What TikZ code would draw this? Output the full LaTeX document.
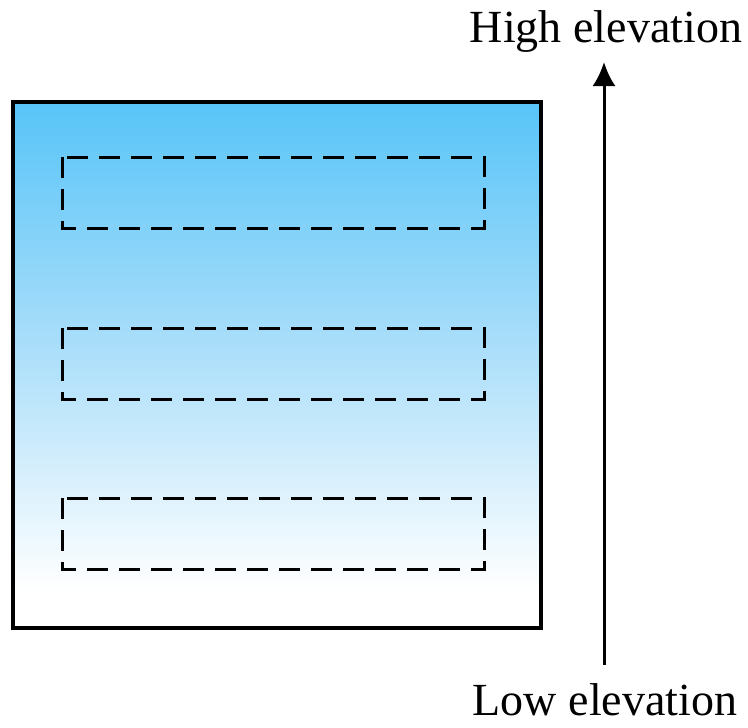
\documentclass[tikz,border=0pt]{standalone}
\usepackage{fontspec}
\setmainfont{Liberation Serif}
\usetikzlibrary{arrows.meta}
\definecolor{skyblue}{RGB}{88,196,248}
\definecolor{paleblue}{RGB}{170,222,250}

\begin{document}
\begin{tikzpicture}[x=1pt,y=-1pt,line width=3pt]
\useasboundingbox (0,0) rectangle (748,728);
\fill[white] (13,102) rectangle (541,628);
\shade[top color=skyblue,bottom color=white,middle color=paleblue] (13,102) rectangle (541,590);
\draw[line width=3.6pt] (13,102) rectangle (541,628);
\foreach \y in {157,328,498} \draw[dash pattern=on 21pt off 11pt] (62,\y) rectangle (484,\y+71);
\node[anchor=base,font=\fontsize{46}{50}\selectfont,inner sep=0pt] (high) at (606,42) {High elevation};
\node[anchor=base,font=\fontsize{46}{50}\selectfont,inner sep=0pt] (low) at (605,715) {Low elevation};
\coordinate (foot) at (604,665); \coordinate (tip) at (604,62);
\draw[line width=3pt,-{Latex[length=24pt,width=23pt]}] (foot) -- (tip);
\end{tikzpicture}
\end{document}
